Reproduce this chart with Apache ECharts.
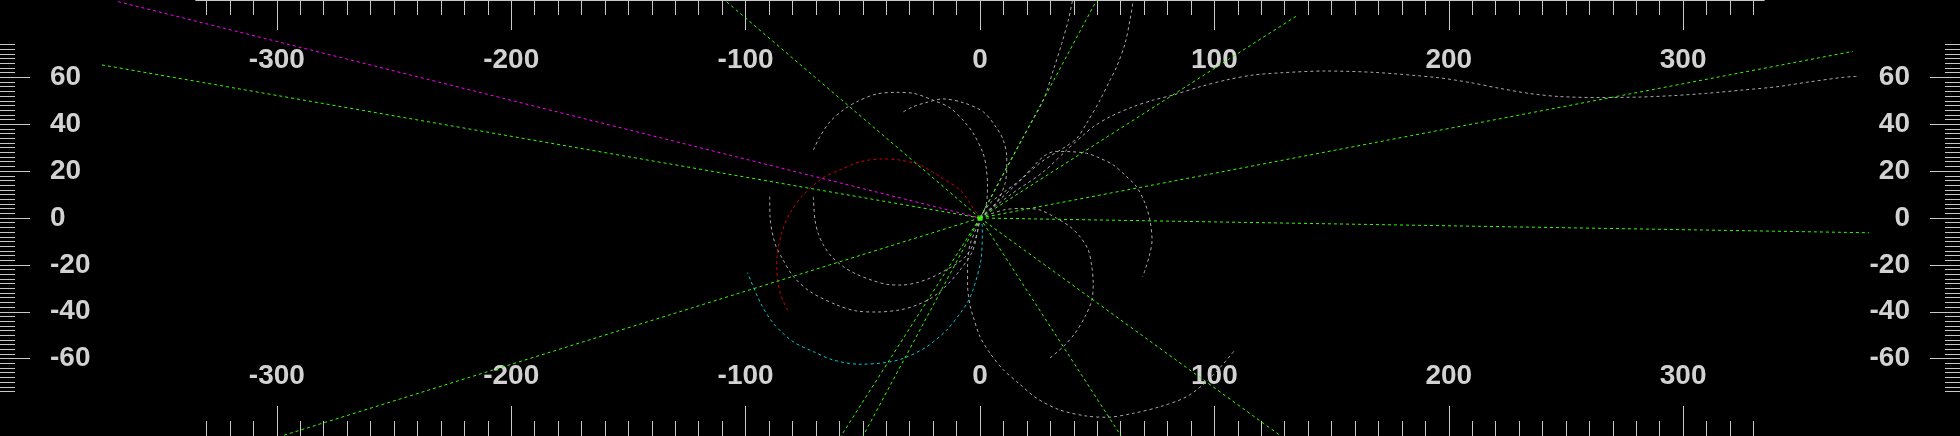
<!DOCTYPE html>
<html>
<head>
<meta charset="utf-8">
<style>
    html, body { margin: 0; padding: 0; background: #000; }
    #chart { width: 1960px; height: 436px; }
</style>
<script src="https://cdn.jsdelivr.net/npm/echarts@6/dist/echarts.min.js"></script>
</head>
<body>
<div id="chart"></div>
<script>
// tick labels
var xLabels = [-300, -200, -100, 0, 100, 200, 300];
var yLabels = [-60, -40, -20, 0, 20, 40, 60];

// straight rays, each one ends at the origin
var magentaRay = [[-367.7, 92.3], [0, 0]];
var greenRays = [
    [[-374.6, 65.3], [0, 0]],
    [[0, 0], [-298, -93]],
    [[0, 0], [-109, 93]],
    [[0, 0], [379.3, -6.3]],
    [[0, 0], [372.4, 71.1]],
    [[0, 0], [49.8, 93]],
    [[0, 0], [135.1, 86.2]],
    [[0, 0], [128.4, -93]],
    [[0, 0], [60.2, -93]],
    [[0, 0], [-59.3, -93]],
    [[0, 0], [-49.9, -93]]
];
var originMark = [[0, 0]];

var redArc = [
    [0, 0], [-1.4, 2.0], [-8.5, 11.9], [-17.1, 17.6], [-25.6, 22.6], [-34.1, 24.7],
    [-41.4, 25.2], [-51.2, 24.0], [-59.7, 20.5], [-67.0, 17.1], [-75.5, 9.8],
    [-81.1, 2.1], [-84.6, -6.4], [-86.6, -16.5], [-86.7, -20.8], [-85.3, -32.0], [-81.5, -40.5]
];
var cyanArc = [
    [0, 0], [1.0, -3.7], [0.4, -17.9], [-3.0, -30.7], [-5.4, -36.1], [-8.5, -40.7],
    [-14.2, -47.8], [-22.7, -54.9], [-32.7, -59.9], [-39.8, -61.6], [-51.2, -62.4],
    [-62.6, -60.6], [-71.1, -57.0], [-79.7, -52.8], [-88.2, -44.9], [-93.9, -35.7], [-99.2, -23.3]
];

// gray loops and spirals
var grayLowerLeftBig = [
    [-89.7, 9.1], [-89.6, 0.9], [-87.5, -10.8], [-84.0, -17.9], [-79.6, -25.0], [-72.5, -31.4],
    [-61.1, -37.1], [-52.5, -39.7], [-43.9, -40.1], [-34.1, -39.2], [-26.9, -37.1],
    [-20.1, -33.7], [-14.1, -28.6], [-8.5, -22.2], [-3.0, -13.7], [0, 0]
];
var grayLowerLeftSmall = [
    [-71.1, 9.0], [-70.4, -0.9], [-68.9, -7.0], [-66.8, -11.5], [-63.3, -16.5], [-58.0, -21.0],
    [-52.6, -24.0], [-46.0, -26.6], [-39.8, -28.3], [-33.5, -28.6], [-27.0, -27.6],
    [-20.5, -25.3], [-14.2, -22.0], [-9.5, -19.2], [-5.7, -16.0], [-2.1, -9.4], [0, 0]
];
var grayUpperLeft = [
    [-71.1, 29.0], [-68.3, 34.7], [-64.0, 41.1], [-58.3, 46.1], [-52.6, 49.6], [-44.1, 52.9],
    [-35.5, 53.6], [-28.5, 53.2], [-20.1, 50.3], [-12.8, 47.0], [-7.3, 41.8], [-3.0, 36.3],
    [1.3, 27.7], [2.6, 21.8], [3.2, 14.1], [2.6, 5.5], [0, 0]
];
var grayUpperSmall = [
    [-32.7, 45.3], [-28.5, 47.5], [-24.2, 48.9], [-15.7, 50.8], [-7.1, 49.2], [1.4, 45.3],
    [7.1, 38.4], [9.9, 33.3], [11.4, 26.2], [11.4, 20.5], [10.7, 14.8], [8.5, 9.1], [5.7, 4.8], [0, 0]
];
var grayLowerRightBig = [
    [0, 0], [-1.9, -5.1], [-4.3, -11.5], [-5.3, -20.0], [-5.3, -28.6], [-4.3, -37.1],
    [-2.9, -42.1], [0, -50.6], [4.3, -57.7], [10.0, -64.8], [15.7, -69.8], [24.2, -76.9],
    [34.1, -81.9], [45.5, -84.5], [54.1, -85.0], [65.4, -83.3], [76.8, -80.5], [88.2, -76.2],
    [98.1, -68.4], [108.8, -56.3]
];
var grayLowerRightSmall = [
    [0, 0], [9.9, 3.4], [18.5, 4.1], [25.6, 3.4], [32.7, -0.1], [38.4, -3.7], [42.7, -8.0],
    [46.2, -13.7], [47.7, -20.8], [48.3, -27.9], [47.7, -35.0], [44.8, -42.1], [40.5, -49.2],
    [35.5, -54.9], [29.6, -59.9]
];
var grayUpperRight = [
    [0, 0], [4.3, 6.3], [11.4, 11.9], [17.1, 16.2], [22.7, 21.9], [27.0, 26.2], [32.0, 28.4],
    [38.4, 28.3], [45.5, 27.6], [51.2, 25.5], [56.9, 22.6], [62.6, 17.6], [66.8, 13.3],
    [70.4, 6.3], [72.5, -0.9], [73.4, -9.4], [72.5, -15.1], [70.4, -22.2], [69.4, -25.0]
];
var graySteep = [
    [0, 0], [9.0, 17.1], [18.5, 34.7], [27.0, 50.3], [31.3, 63.1], [34.9, 74.5], [37.7, 84.5], [39.5, 93.0]
];
var grayBent = [
    [0, 0], [12.8, 11.9], [25.6, 23.5], [36.3, 30.3], [41.3, 34.0], [45.5, 40.4], [51.2, 50.3],
    [55.5, 58.9], [58.3, 64.5], [61.9, 74.5], [64.0, 84.5], [65.4, 93.0]
];
var grayLong = [
    [0, 0], [12.8, 9.8], [26.9, 19.6], [37.0, 29.0], [44.1, 35.4], [48.3, 38.9], [55.5, 43.2],
    [65.4, 47.5], [73.9, 50.3], [82.5, 52.5], [93.9, 56.0], [105.2, 58.9], [116.6, 61.0],
    [129.4, 62.0], [147.2, 62.7], [168.5, 62.1], [195.0, 59.9], [209.0, 57.8], [221.8, 55.3],
    [234.6, 53.1], [247.4, 51.8], [264.5, 51.4], [281.6, 51.6], [295.6, 52.2], [310.1, 53.2],
    [325.5, 54.6], [340.0, 56.0], [354.1, 58.1], [368.2, 60.0], [374.1, 60.4]
];

(function (echarts) {
    'use strict';

    var X_HALF = 418.1;   // full width, same scale as y
    var Y_HALF = 93;
    var X_RULER = 334.5;  // top / bottom ruler only spans part of the width
    var tickColor = '#c8c8c8';
    var dash = [3, 3];

    var labelStyle = {
        color: '#d2d2d2',
        fontSize: 28,
        fontWeight: 'bold',
        fontFamily: 'Liberation Sans, Arial, sans-serif'
    };

    function range(from, to, step) {
        var out = [];
        for (var v = from; v <= to; v += step) out.push(v);
        return out;
    }

    function rulerAxis(pos, grid, half, values, len, labels, showLine) {
        return {
            type: 'value',
            gridIndex: grid,
            position: pos,
            min: -half,
            max: half,
            axisLine: { show: !!showLine, onZero: false, lineStyle: { color: tickColor, width: 1 } },
            axisTick: { show: true, inside: true, length: len, customValues: values, lineStyle: { color: tickColor, width: 1 } },
            axisLabel: labels ? Object.assign({ show: true, inside: true, margin: 46, customValues: labels }, labelStyle) : { show: false },
            splitLine: { show: false }
        };
    }

    function hiddenAxis(grid, half) {
        return { type: 'value', gridIndex: grid, min: -half, max: half, show: false, axisLine: { onZero: false } };
    }

    var xMinor = range(-330, 330, 10);
    var yMinor = range(-74, 74, 2);

    var xAxes = [
        hiddenAxis(0, X_HALF),
        rulerAxis('top', 1, X_RULER, xMinor, 15, null, true),
        rulerAxis('top', 1, X_RULER, xLabels, 30, xLabels, true),
        rulerAxis('bottom', 1, X_RULER, xMinor, 15, null, false),
        rulerAxis('bottom', 1, X_RULER, xLabels, 30, xLabels, false)
    ];
    var yAxes = [
        hiddenAxis(0, Y_HALF),
        rulerAxis('left', 0, Y_HALF, yMinor, 15, null, false),
        rulerAxis('left', 0, Y_HALF, yLabels, 30, yLabels, false),
        rulerAxis('right', 0, Y_HALF, yMinor, 15, null, false),
        rulerAxis('right', 0, Y_HALF, yLabels, 30, yLabels, false),
        hiddenAxis(1, Y_HALF)
    ];
    yAxes[2].axisLabel.margin = 50;
    yAxes[4].axisLabel.margin = 50;

    function curve(data, color, smooth) {
        return {
            type: 'line',
            xAxisIndex: 0,
            yAxisIndex: 0,
            data: data,
            showSymbol: false,
            symbol: 'none',
            smooth: smooth ? 0.3 : false,
            silent: true,
            lineStyle: { color: color, width: 1, type: dash }
        };
    }

    var series = [
        curve(grayLowerLeftBig, '#a9a9a9', true),
        curve(grayLowerLeftSmall, '#a9a9a9', true),
        curve(grayUpperLeft, '#a9a9a9', true),
        curve(grayUpperSmall, '#a9a9a9', true),
        curve(grayLowerRightBig, '#a9a9a9', true),
        curve(grayLowerRightSmall, '#a9a9a9', true),
        curve(grayUpperRight, '#a9a9a9', true),
        curve(graySteep, '#a9a9a9', true),
        curve(grayBent, '#a9a9a9', true),
        curve(grayLong, '#a9a9a9', true),
        curve(redArc, '#d40000', true),
        curve(cyanArc, '#00c8d8', true),
        curve(magentaRay, '#ff00ff', false)
    ];
    greenRays.forEach(function (ray) {
        series.push(curve(ray, '#33ff00', false));
    });
    series.push({
        type: 'scatter',
        xAxisIndex: 0,
        yAxisIndex: 0,
        data: originMark,
        symbol: 'rect',
        symbolSize: 5,
        silent: true,
        itemStyle: { color: '#33ff00' }
    });

    var chart = echarts.init(document.getElementById('chart'));
    chart.setOption({
        backgroundColor: '#000',
        animation: false,
        grid: [
            { left: 0, right: 0, top: 0, bottom: 0 },
            { left: 196, right: 196, top: 0, bottom: 0 }
        ],
        xAxis: xAxes,
        yAxis: yAxes,
        series: series
    });
})(echarts);
</script>
</body>
</html>
